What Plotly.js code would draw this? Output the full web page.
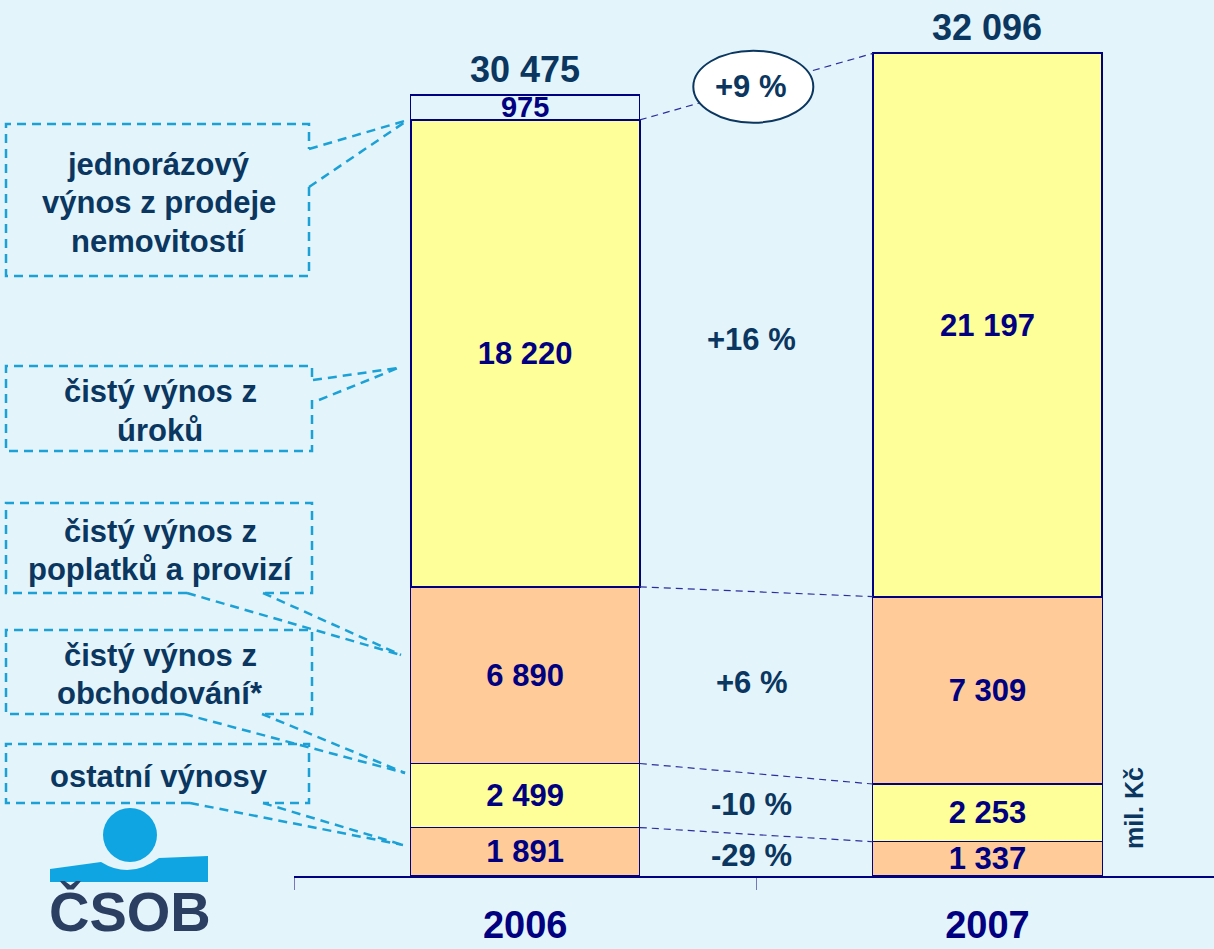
<!DOCTYPE html>
<html>
<head>
<meta charset="utf-8">
<script src="https://cdn.plot.ly/plotly-3.0.1.min.js"></script>
<style>
html, body { margin: 0; padding: 0; background: #E3F4FB; }
#chart { width: 1214px; height: 949px; }
</style>
</head>
<body>
<div id="chart"></div>
<script>
// ---------------- DATA ----------------
const years = ['2006', '2007'];
const ostatniVynosy = [1891, 1337];
const obchodovani = [2499, 2253];
const poplatky = [6890, 7309];
const uroky = [18220, 21197];
const jednorazovy = [975, 0];
const totals = [30475, 32096];
const segmentChanges = ['-29 %', '-10 %', '+6 %', '+16 %'];
const totalChange = '+9 %';
const seriesLabels = [
  'ostatní výnosy',
  'čistý výnos z\nobchodování*',
  'čistý výnos z\npoplatků a provizí',
  'čistý výnos z\núroků',
  'jednorázový\nvýnos z prodeje\nnemovitostí'
];
const unitLabel = 'mil. Kč';
const logoText = 'ČSOB';

// ---------------- STYLE ----------------
const FONT = 'Arial, "Liberation Sans", sans-serif';
const BG = '#E3F4FB';
const NAVY = '#000080';
const DARK = '#0A365F';
const CALLOUT = '#1BA1D6';
const PEACH = '#FFCC99';
const YELLOW = '#FFFF99';
const W = 1214, H = 949, ML = 294, MR = 0, MT = 20, MB = 73;
const PW = W - ML - MR, PH = H - MT - MB;
const px = x => (x - ML) / PW;
const py = y => (H - MB - y) / PH;

const seriesValues = [ostatniVynosy, obchodovani, poplatky, uroky, jednorazovy];
const seriesColors = [PEACH, YELLOW, PEACH, YELLOW, 'rgba(0,0,0,0)'];
const seriesLineWidths = [1.2, 1.2, 1.2, 2, 1.2];
const fmt = v => String(v).replace(/\B(?=(\d{3})+(?!\d))/g, ' ');

const traces = seriesValues.map((vals, i) => ({
  type: 'bar',
  name: seriesLabels[i].replace(/\n/g, ' '),
  x: years,
  y: vals.map(v => (v === 0 ? null : v)),
  width: 0.496,
  marker: { color: seriesColors[i], line: { color: NAVY, width: seriesLineWidths[i] } },
  text: vals.map(v => (v ? fmt(v) : '')),
  textposition: 'inside',
  insidetextanchor: 'middle',
  textangle: 0,
  constraintext: 'none',
  insidetextfont: { family: FONT, size: i === 4 ? 29 : 31, color: NAVY, weight: 'bold' },
  hoverinfo: 'skip'
}));

// cumulative tops per series
const cum = years.map((_, j) => {
  let s = 0;
  return seriesValues.map(v => (s += v[j]));
});

const shapes = [];
const annotations = [];
const ann = o => annotations.push(Object.assign({ showarrow: false, xanchor: 'center', yanchor: 'middle' }, o));

// connectors between bars (boundaries after first four series)
for (let k = 0; k < 4; k++) {
  shapes.push({
    type: 'line', xref: 'x', yref: 'y',
    x0: 0.248, y0: cum[0][k], x1: 0.752, y1: cum[1][k],
    line: { color: '#2E2E9E', width: 1.2, dash: '7px,5px' }
  });
}

// change labels between bars
for (let k = 0; k < 4; k++) {
  const mid = j => (cum[j][k] - seriesValues[k][j] / 2);
  ann({
    xref: 'x', yref: 'y', x: 0.49, y: (mid(0) + mid(1)) / 2,
    text: segmentChanges[k],
    font: { family: FONT, size: 31, color: DARK, weight: 'bold' }
  });
}

// total change ellipse
const totMid = (cum[0][3] + cum[1][3]) / 2;
shapes.push({
  type: 'circle', xref: 'x', yref: 'y',
  xsizemode: 'pixel', ysizemode: 'pixel',
  xanchor: 0.5, yanchor: totMid,
  x0: -63, x1: 57, y0: -36, y1: 36,
  fillcolor: 'white', line: { color: DARK, width: 2 }
});
ann({
  xref: 'x', yref: 'y', x: 0.488, y: totMid,
  text: totalChange,
  font: { family: FONT, size: 31, color: DARK, weight: 'bold' }
});

// totals above bars
years.forEach((yr, j) => {
  ann({
    xref: 'x', yref: 'y', x: j, y: totals[j], yanchor: 'bottom', yshift: 3,
    text: fmt(totals[j]),
    font: { family: FONT, size: 36, color: DARK, weight: 'bold' }
  });
});

// unit label
ann({
  xref: 'paper', yref: 'paper', x: px(1134), y: py(808),
  text: unitLabel, textangle: -90,
  font: { family: FONT, size: 25, color: DARK, weight: 'bold' }
});

// callout boxes (positions in pixels), order matches seriesLabels
const callouts = [
  { box: [6, 744, 309, 803], gap: ['bottom', 190, 263], from: [[190, 803], [263, 803]], tip: [403, 845] },
  { box: [6, 630, 312, 714], gap: ['bottom', 184, 262], from: [[184, 714], [262, 714]], tip: [405, 773] },
  { box: [6, 503, 312, 593], gap: ['bottom', 187, 263], from: [[187, 593], [263, 593]], tip: [401, 655] },
  { box: [6, 366, 312, 451], gap: ['right', 380, 400], from: [[313, 380], [319, 400]], tip: [398, 368] },
  { box: [6, 124, 309, 276], gap: ['right', 149, 187], from: [[309, 149], [309, 187]], tip: [408, 120] }
];
const cl = { color: CALLOUT, width: 2.5, dash: '9px,6px' };
callouts.forEach((c, i) => {
  const [x0, y0, x1, y1] = c.box;
  const P = (x, y) => px(x) + ',' + py(y);
  let path;
  if (c.gap[0] === 'right') {
    path = 'M' + P(x1, c.gap[2]) + ' L' + P(x1, y1) + ' L' + P(x0, y1) + ' L' + P(x0, y0) + ' L' + P(x1, y0) + ' L' + P(x1, c.gap[1]);
  } else {
    path = 'M' + P(c.gap[1], y1) + ' L' + P(x0, y1) + ' L' + P(x0, y0) + ' L' + P(x1, y0) + ' L' + P(x1, y1) + ' L' + P(c.gap[2], y1);
  }
  shapes.push({ type: 'path', xref: 'paper', yref: 'paper', path: path, line: cl });
  c.from.forEach(f => {
    shapes.push({
      type: 'line', xref: 'paper', yref: 'paper',
      x0: px(f[0]), y0: py(f[1]), x1: px(c.tip[0]), y1: py(c.tip[1]), line: cl
    });
  });
  const lines = seriesLabels[i].split('\n');
  const cy = (y0 + y1) / 2 + 2.5;
  const cx = (x0 + x1) / 2 + 1;
  lines.forEach((t, li) => {
    ann({
      xref: 'paper', yref: 'paper', x: px(cx), y: py(cy + (li - (lines.length - 1) / 2) * 38.5),
      text: t,
      font: { family: FONT, size: 31, color: DARK, weight: 'bold' }
    });
  });
});

// logo
shapes.push({
  type: 'circle', xref: 'paper', yref: 'paper',
  x0: px(103), x1: px(157), y0: py(862), y1: py(808),
  fillcolor: '#0FA5E3', line: { width: 0 }
});
const LP = (x, y) => px(x) + ',' + py(y);
shapes.push({
  type: 'path', xref: 'paper', yref: 'paper',
  path: 'M' + LP(50, 869) + ' L' + LP(101, 862) + ' Q' + LP(130, 880) + ' ' + LP(159, 858) +
        ' L' + LP(208, 856) + ' L' + LP(208, 882) + ' L' + LP(50, 882) + ' Z',
  fillcolor: '#0FA5E3', line: { width: 0 }
});
ann({
  xref: 'paper', yref: 'paper', x: px(130), y: py(911),
  text: logoText,
  font: { family: FONT, size: 56, color: '#2B3F63', weight: 'bold' }
});

const layout = {
  width: W, height: H,
  margin: { l: ML, r: MR, t: MT, b: MB, pad: 0 },
  paper_bgcolor: BG, plot_bgcolor: BG,
  barmode: 'stack',
  showlegend: false,
  xaxis: {
    type: 'category', range: [-0.5, 1.49],
    tickson: 'boundaries', ticks: 'outside', ticklen: 12, tickwidth: 1, tickcolor: '#7777BB',
    showline: true, linecolor: NAVY, linewidth: 2,
    showgrid: false, zeroline: false,
    ticklabelstandoff: 14,
    tickfont: { family: FONT, size: 38, color: NAVY, weight: 'bold' },
    fixedrange: true
  },
  yaxis: { visible: false, range: [0, 33400], fixedrange: true },
  shapes: shapes,
  annotations: annotations
};

Plotly.newPlot('chart', traces, layout, { displayModeBar: false, staticPlot: true });
</script>
</body>
</html>
